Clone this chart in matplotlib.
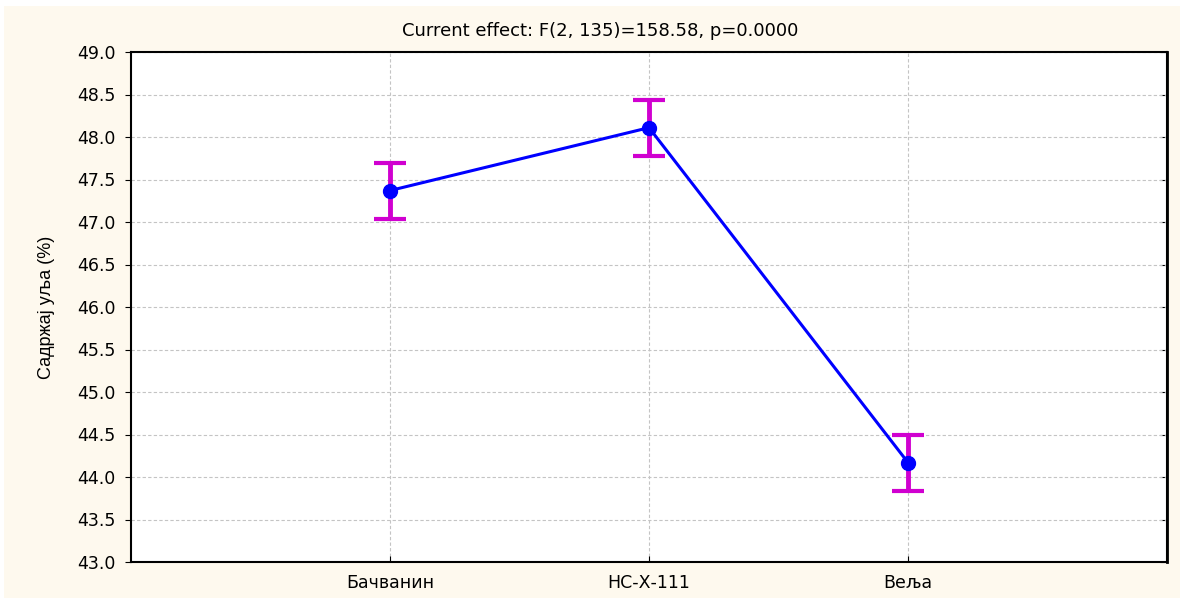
import numpy as np
import matplotlib.pyplot as plt
from matplotlib.patches import Rectangle

sorte = ['Бачванин', 'НС-Х-111', 'Веља']
sredine = [47.37, 48.11, 44.17]
greske = [0.33, 0.33, 0.33]
y_tikovi = np.arange(43.0, 49.01, 0.5)
naslov = 'Current effect: F(2, 135)=158.58, p=0.0000'
y_naziv = 'Садржај уља (%)'

W, H = 1180, 598
fig = plt.figure(figsize=(W / 100, H / 100), dpi=100, facecolor='white')
fig.patches.append(Rectangle((0.003, 0), 0.997, (H - 6) / H, transform=fig.transFigure,
                             facecolor='#FEF9EE', edgecolor='none', zorder=-10))

ax = fig.add_axes([131 / W, (H - 562) / H, (1167 - 131) / W, (562 - 52) / H])
x = np.arange(1, len(sorte) + 1)
ax.errorbar(x, sredine, yerr=greske, fmt='none', ecolor='#D000D0', elinewidth=3.5,
            capsize=11.5, capthick=3, zorder=3)
ax.plot(x, sredine, color='#0000FF', lw=2.2, marker='o', markersize=10, zorder=4)

ax.set_xlim(0, len(sorte) + 1)
ax.set_ylim(43, 49)
ax.set_xticks(x)
ax.set_xticklabels(sorte, fontsize=12.5, family='DejaVu Sans')
ax.set_yticks(y_tikovi)
ax.set_yticklabels(['%.1f' % v for v in y_tikovi], fontsize=12.5, family='DejaVu Sans')
ax.tick_params(axis='y', direction='out', length=4, pad=7)
ax.tick_params(axis='x', direction='in', length=4, pad=9)
desno = ax.secondary_yaxis('right')
desno.set_yticks(y_tikovi)
desno.tick_params(direction='in', length=5, labelright=False)
desno.spines['right'].set_linewidth(2)
ax.grid(True, color='#C4C4C4', linestyle=(0, (3, 2)), linewidth=0.8)
ax.set_axisbelow(True)
for s in ax.spines.values():
    s.set_linewidth(1.5)
ax.set_ylabel(y_naziv, fontsize=13, family=['Liberation Sans', 'DejaVu Sans'], labelpad=16)
fig.text(600 / W, 1 - 31 / H, naslov, ha='center', va='center', fontsize=13,
         family='DejaVu Sans')

fig.savefig('out.png', dpi=100, facecolor=fig.get_facecolor())
